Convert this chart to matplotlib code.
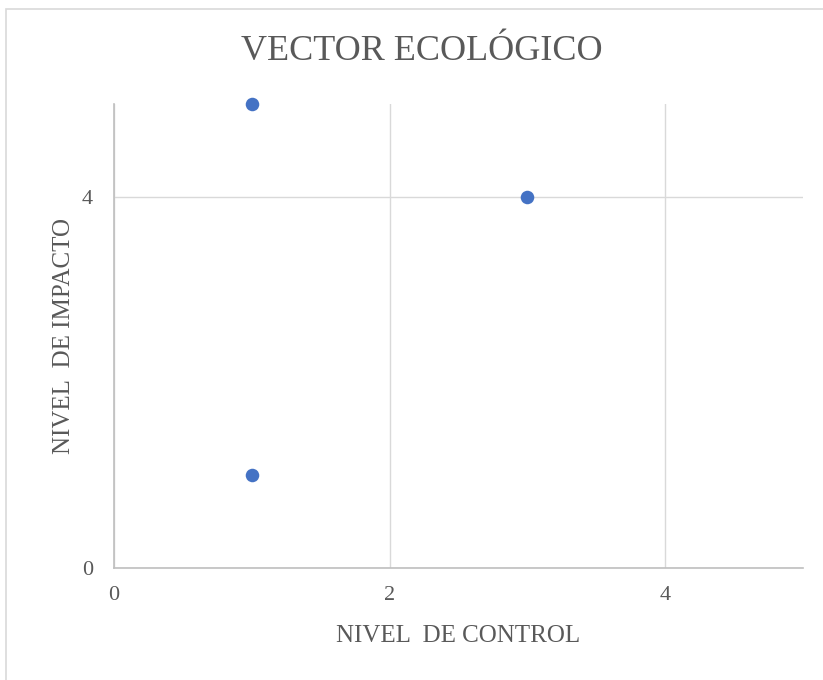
import matplotlib
matplotlib.use("Agg")
import matplotlib.pyplot as plt

# Nivel de control (x) vs nivel de impacto (y)
control = [1, 3, 1]
impacto = [5, 4, 1]
x_ticks = [0, 2, 4]
y_ticks = [0, 4]

plt.rcParams['font.family'] = ['Liberation Serif', 'DejaVu Serif']
text_color = '#595959'
grid_color = '#d9d9d9'

fig = plt.figure(figsize=(8.23, 6.8), dpi=100)
ax = fig.add_axes([114/823, 1 - 568/680, (803 - 114)/823, (568 - 104)/680])

ax.scatter(control, impacto, s=95, color='#4472C4', zorder=3, linewidths=0,
           clip_on=False)

ax.set_xlim(0, 5)
ax.set_ylim(0, 5)
ax.set_xticks(x_ticks)
ax.set_yticks(y_ticks)
ax.tick_params(length=0, labelsize=16, colors=text_color)
ax.tick_params(axis='x', pad=13)
ax.tick_params(axis='y', pad=15)

ax.grid(True, color=grid_color, linewidth=1)
ax.set_axisbelow(True)
for side in ['top', 'right']:
    ax.spines[side].set_visible(False)
for side in ['left', 'bottom']:
    ax.spines[side].set_color('#bfbfbf')
    ax.spines[side].set_linewidth(1.2)

ax.set_xlabel('NIVEL  DE CONTROL', fontsize=18, color=text_color, labelpad=14)
ax.set_ylabel('NIVEL  DE IMPACTO', fontsize=18, color=text_color, labelpad=5)

fig.text(422/823, 1 - 52/680, 'VECTOR ECOLÓGICO', fontsize=26, color=text_color,
         ha='center', va='center')

# Chart-area border
border = plt.Rectangle((6/823, -0.01), 1.0, 1 - 9/680 + 0.01, transform=fig.transFigure,
                       fill=False, edgecolor='#d9d9d9', linewidth=1.2)
fig.patches.append(border)

fig.savefig('out.png', dpi=100, facecolor='white')
